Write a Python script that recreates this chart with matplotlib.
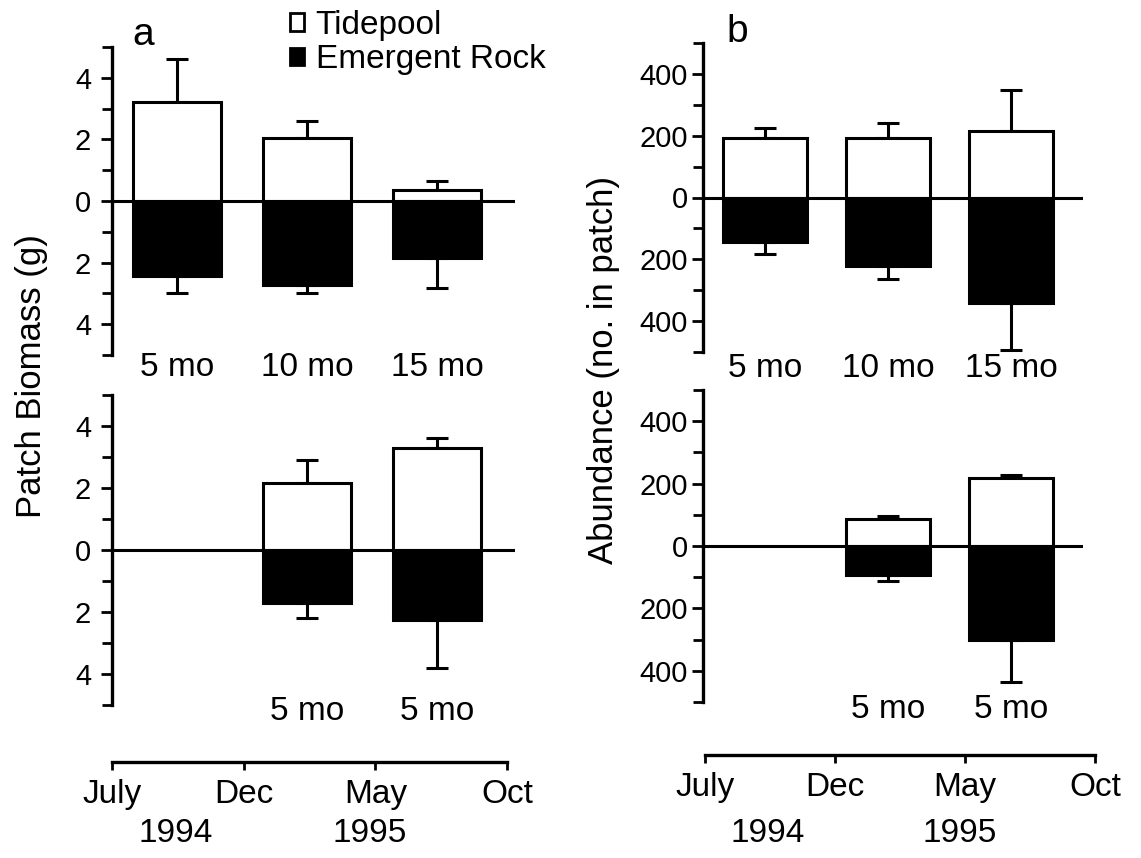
import matplotlib
matplotlib.use("Agg")
import matplotlib.pyplot as plt
from matplotlib.patches import Patch
from matplotlib.ticker import MultipleLocator, FuncFormatter

plt.rcParams['font.family'] = ['Liberation Sans', 'DejaVu Sans']

# months after July 1994 (July=0, Dec=5, May=10, Oct=15)
month_ticks = [0, 5, 10, 15]
month_labels = ["July", "Dec", "May", "Oct"]
year_labels = ["1994", "1995"]
year_pos = [2.4, 9.8]

# top panels: patches cleared July 1994, sampled after 5, 10, 15 months
top_x = [2.5, 7.5, 12.5]
top_labels = ["5 mo", "10 mo", "15 mo"]
# bottom panels: patches cleared Dec 1994 and May 1995, sampled after 5 months
bot_x = [7.5, 12.5]
bot_labels = ["5 mo", "5 mo"]

# (a) patch biomass, g (mean and +/- SE)
bio_tide_top = [3.2, 2.05, 0.35]
bio_tide_top_se = [1.4, 0.55, 0.3]
bio_rock_top = [2.42, 2.74, 1.84]
bio_rock_top_se = [0.58, 0.26, 1.0]
bio_tide_bot = [2.15, 3.3]
bio_tide_bot_se = [0.75, 0.3]
bio_rock_bot = [1.7, 2.25]
bio_rock_bot_se = [0.5, 1.55]

# (b) abundance, no. in patch
ab_tide_top = [194, 194, 216]
ab_tide_top_se = [32, 48, 132]
ab_rock_top = [145, 222, 342]
ab_rock_top_se = [39, 42, 151]
ab_tide_bot = [87, 219]
ab_tide_bot_se = [10, 7]
ab_rock_bot = [94, 300]
ab_rock_bot_se = [19, 135]

W, H = 1141, 858
fig = plt.figure(figsize=(W / 100, H / 100), dpi=100)


def px_axes(left, top, right, bottom):
    return fig.add_axes([left / W, 1 - bottom / H, (right - left) / W, (bottom - top) / H])


def panel(ax, x, tide, tide_se, rock, rock_se, lim, major, minor, pad, xmax):
    n = len(x)
    neg = [-r for r in rock]
    ax.axhline(0, color="black", lw=2.2, zorder=1)
    ax.errorbar(x, tide, yerr=[[0] * n, tide_se], fmt="none", ecolor="black",
                elinewidth=2.2, capsize=8, capthick=2.2, zorder=2)
    ax.errorbar(x, neg, yerr=[rock_se, [0] * n], fmt="none", ecolor="black",
                elinewidth=2.2, capsize=8, capthick=2.2, zorder=2)
    ax.bar(x, tide, width=3.4, color="white", edgecolor="black", lw=2.2, zorder=3)
    ax.bar(x, neg, width=3.4, color="black", edgecolor="black", lw=2.2, zorder=3)
    ax.set_xlim(0, xmax)
    ax.set_ylim(-lim, lim)
    ax.set_xticks([])
    ax.yaxis.set_major_locator(MultipleLocator(major))
    ax.yaxis.set_minor_locator(MultipleLocator(minor))
    ax.yaxis.set_major_formatter(FuncFormatter(lambda v, p: f"{abs(v):g}"))
    ax.tick_params(axis="y", which="major", length=8, width=2, pad=pad, labelsize=21)
    ax.tick_params(axis="y", which="minor", length=7, width=2)
    for s in ["top", "right", "bottom"]:
        ax.spines[s].set_visible(False)
    ax.spines["left"].set_linewidth(2.4)
    ax.patch.set_visible(False)


def cat_labels(ax, x, labels, ypx):
    for xi, lab in zip(x, labels):
        ax.annotate(lab, xy=(xi, 1 - ypx / H), xycoords=("data", "figure fraction"),
                    ha="center", va="center", fontsize=24, annotation_clip=False)


def timeline(left, right, ypx, year_y):
    tl = px_axes(left, ypx - 10, right, ypx)
    tl.set_xlim(0, 15)
    tl.set_yticks([])
    tl.set_xticks(month_ticks)
    tl.set_xticklabels(month_labels)
    tl.tick_params(axis="x", direction="out", length=6, width=2, pad=6, labelsize=24)
    for s in ["top", "right", "left"]:
        tl.spines[s].set_visible(False)
    tl.spines["bottom"].set_linewidth(2.4)
    tl.patch.set_visible(False)
    for xi, lab in zip(year_pos, year_labels):
        tl.annotate(lab, xy=(xi, 1 - year_y / H), xycoords=("data", "figure fraction"),
                    ha="center", va="center", fontsize=24, annotation_clip=False)


# column a
a_top = px_axes(112, 47, 515, 355)
panel(a_top, top_x, bio_tide_top, bio_tide_top_se, bio_rock_top, bio_rock_top_se,
      5, 2, 1, 7, 15.5)
cat_labels(a_top, top_x, top_labels, 368)
a_bot = px_axes(112, 395, 515, 705)
panel(a_bot, bot_x, bio_tide_bot, bio_tide_bot_se, bio_rock_bot, bio_rock_bot_se,
      5, 2, 1, 7, 15.5)
cat_labels(a_bot, bot_x, bot_labels, 712)
timeline(112, 507, 762, 833)

# column b
b_top = px_axes(703, 43, 1083, 352)
panel(b_top, top_x, ab_tide_top, ab_tide_top_se, ab_rock_top, ab_rock_top_se,
      500, 200, 100, 3, 15.4)
cat_labels(b_top, top_x, top_labels, 369)
b_bot = px_axes(703, 390, 1083, 702)
panel(b_bot, bot_x, ab_tide_bot, ab_tide_bot_se, ab_rock_bot, ab_rock_bot_se,
      500, 200, 100, 3, 15.4)
cat_labels(b_bot, bot_x, bot_labels, 710)
timeline(705, 1095, 755, 833)

fig.text(32 / W, 1 - 376 / H, "Patch Biomass (g)", rotation=90,
         ha="center", va="center", fontsize=25)
fig.text(603 / W, 1 - 370 / H, "Abundance (no. in patch)", rotation=90,
         ha="center", va="center", fontsize=25)
fig.text(143 / W, 1 - 45 / H, "a", ha="center", va="baseline", fontsize=28)
fig.text(737 / W, 1 - 42 / H, "b", ha="center", va="baseline", fontsize=28)

handles = [Patch(facecolor="white", edgecolor="black", lw=2),
           Patch(facecolor="black", edgecolor="black", lw=2)]
fig.legend(handles, ["Tidepool", "Emergent Rock"], loc="upper left",
           bbox_to_anchor=(290 / W, 1 - 10 / H), frameon=False, fontsize=24,
           handlelength=0.42, handleheight=0.42, handletextpad=0.35,
           labelspacing=0.1, borderpad=0, borderaxespad=0)

fig.savefig("out.png", dpi=100)
